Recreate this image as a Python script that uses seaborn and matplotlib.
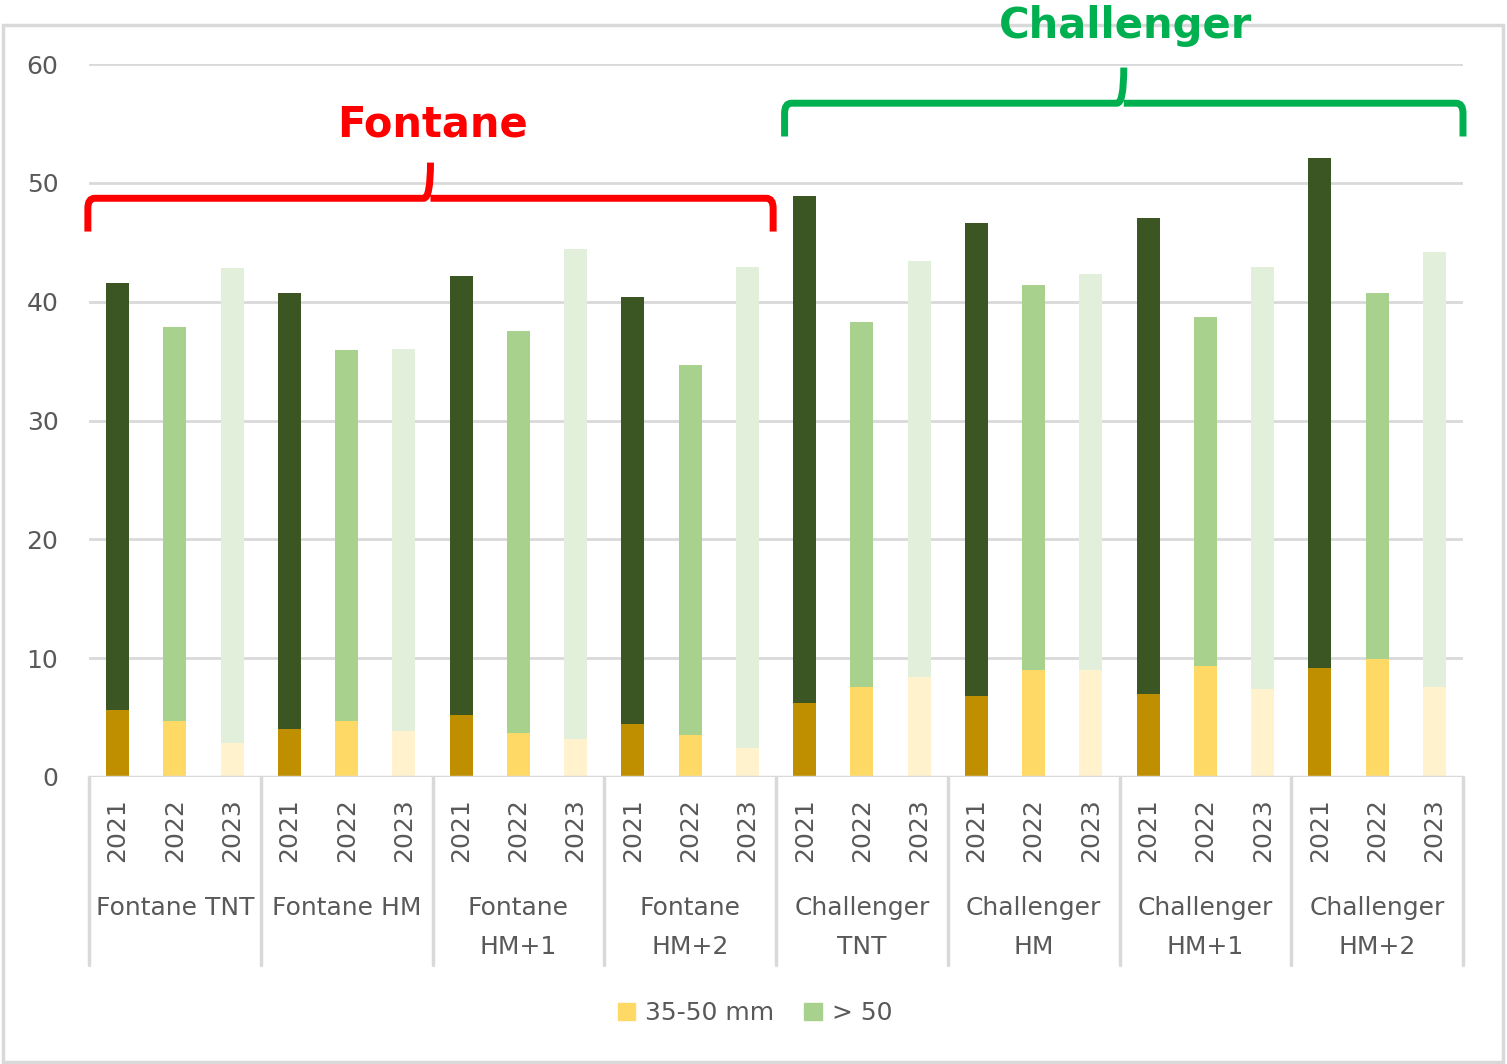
import pandas as pd
import matplotlib.pyplot as plt
import seaborn as sns
from matplotlib.patches import Rectangle, PathPatch
from matplotlib.lines import Line2D
from matplotlib.path import Path

# data: total height (35-50 + >50) and the 35-50 mm part
groups = ["Fontane TNT", "Fontane HM", "Fontane\nHM+1", "Fontane\nHM+2",
          "Challenger\nTNT", "Challenger\nHM", "Challenger\nHM+1", "Challenger\nHM+2"]
years = ["2021", "2022", "2023"]
totals = [41.6, 37.9, 42.8,
          40.7, 35.9, 36.0,
          42.2, 37.5, 44.4,
          40.4, 34.7, 42.9,
          48.9, 38.3, 43.4,
          46.6, 41.4, 42.3,
          47.0, 38.7, 42.9,
          52.1, 40.7, 44.2]
small = [5.6, 4.7, 2.9,
         4.0, 4.7, 3.9,
         5.2, 3.7, 3.2,
         4.5, 3.5, 2.4,
         6.2, 7.6, 8.4,
         6.8, 9.0, 9.0,
         7.0, 9.3, 7.4,
         9.2, 9.9, 7.6]

top_colors = {"2021": "#3B5623", "2022": "#A9D18E", "2023": "#E2EFDA"}
bottom_colors = {"2021": "#BF8F00", "2022": "#FFD966", "2023": "#FFF2CC"}

rows = []
for gi, g in enumerate(groups):
    for yi, y in enumerate(years):
        k = gi * 3 + yi
        rows.append({"bar": f"{g}|{y}", "group": g, "year": y,
                     "total": totals[k], "small": small[k]})
df = pd.DataFrame(rows)

sns.set_style("white")
plt.rcParams["font.family"] = ["DejaVu Sans"]
grey = "#595959"
line_grey = "#D9D9D9"

fig = plt.figure(figsize=(15.07, 10.64), dpi=100)
ax = fig.add_axes([89 / 1507, 1 - 777 / 1064, 1374 / 1507, 713 / 1064])

# stacked bars: total first, then the lower part on top
sns.barplot(data=df, x="bar", y="total", hue="year", palette=top_colors,
            dodge=False, width=0.4, legend=False, ax=ax, zorder=3,
            saturation=1, linewidth=0)
sns.barplot(data=df, x="bar", y="small", hue="year", palette=bottom_colors,
            dodge=False, width=0.4, legend=False, ax=ax, zorder=3,
            saturation=1, linewidth=0)

ax.set_xlim(-0.5, len(df) - 0.5)
ax.set_ylim(0, 60)
ax.set_yticks(range(0, 61, 10))
ax.tick_params(axis="y", length=0, pad=22, labelsize=18, labelcolor=grey)
ax.set_xticks([])
ax.set_xlabel("")
ax.set_ylabel("")
ax.yaxis.grid(True, color=line_grey, lw=2, zorder=0)
for s in ax.spines.values():
    s.set_visible(False)
ax.axhline(0, color=line_grey, lw=2.5, zorder=4)

# multi-level category axis
trans = ax.get_xaxis_transform()
for i, y in enumerate(df["year"]):
    ax.text(i, -0.074, y, rotation=90, ha="center", va="center",
            fontsize=18, color=grey, transform=trans)
for gi, g in enumerate(groups):
    xc = gi * 3 + 1
    for li, line in enumerate(g.split("\n")):
        ax.text(xc, -0.184 - li * 0.055, line, ha="center", va="center",
                fontsize=18, color=grey, transform=trans)
for b in range(len(groups) + 1):
    ax.add_line(Line2D([b * 3 - 0.5] * 2, [0, -0.264], color=line_grey,
                       lw=2.5, transform=trans, clip_on=False))


def brace(x0, x1, y_end, y_bar, y_tip, color):
    xm = (x0 + x1) / 2
    r = 0.12
    h = (y_bar - y_end) * 0.3
    verts = [(x0, y_end), (x0, y_bar - h), (x0, y_bar), (x0 + r, y_bar),
             (xm - r, y_bar), (xm, y_bar), (xm, y_tip),
             (xm, y_bar), (xm + r, y_bar),
             (x1 - r, y_bar), (x1, y_bar), (x1, y_bar - h), (x1, y_end)]
    codes = [Path.MOVETO, Path.LINETO, Path.CURVE3, Path.CURVE3,
             Path.LINETO, Path.CURVE3, Path.CURVE3,
             Path.MOVETO, Path.CURVE3, Path.LINETO, Path.CURVE3, Path.CURVE3,
             Path.LINETO]
    ax.add_patch(PathPatch(Path(verts, codes), fill=False, ec=color, lw=5,
                           clip_on=False, zorder=5, capstyle="butt"))


red = "#FF0000"
green = "#00B050"
brace(-0.52, 11.45, 45.9, 48.7, 51.7, red)
brace(11.65, 23.5, 53.9, 56.7, 59.7, green)
ax.text(5.5, 54.9, "Fontane", ha="center", va="center", fontsize=30,
        fontweight="bold", color=red, clip_on=False)
ax.text(17.6, 63.2, "Challenger", ha="center", va="center", fontsize=30,
        fontweight="bold", color=green, clip_on=False, zorder=6)

# legend
handles = [Rectangle((0, 0), 1, 1, color=bottom_colors["2022"]),
           Rectangle((0, 0), 1, 1, color=top_colors["2022"])]
fig.legend(handles, ["35-50 mm", "> 50"], loc="center",
           bbox_to_anchor=(755 / 1507, 1 - 1013 / 1064), ncol=2, frameon=False,
           fontsize=18, labelcolor=grey, handlelength=0.7, handleheight=0.7,
           handletextpad=0.4, columnspacing=1.2)

# chart border
fig.add_artist(Rectangle((3 / 1507, 2 / 1064), 1500 / 1507, 1037 / 1064,
                         transform=fig.transFigure, fill=False, ec=line_grey,
                         lw=2.5, zorder=0))

fig.savefig("out.png", dpi=100)
